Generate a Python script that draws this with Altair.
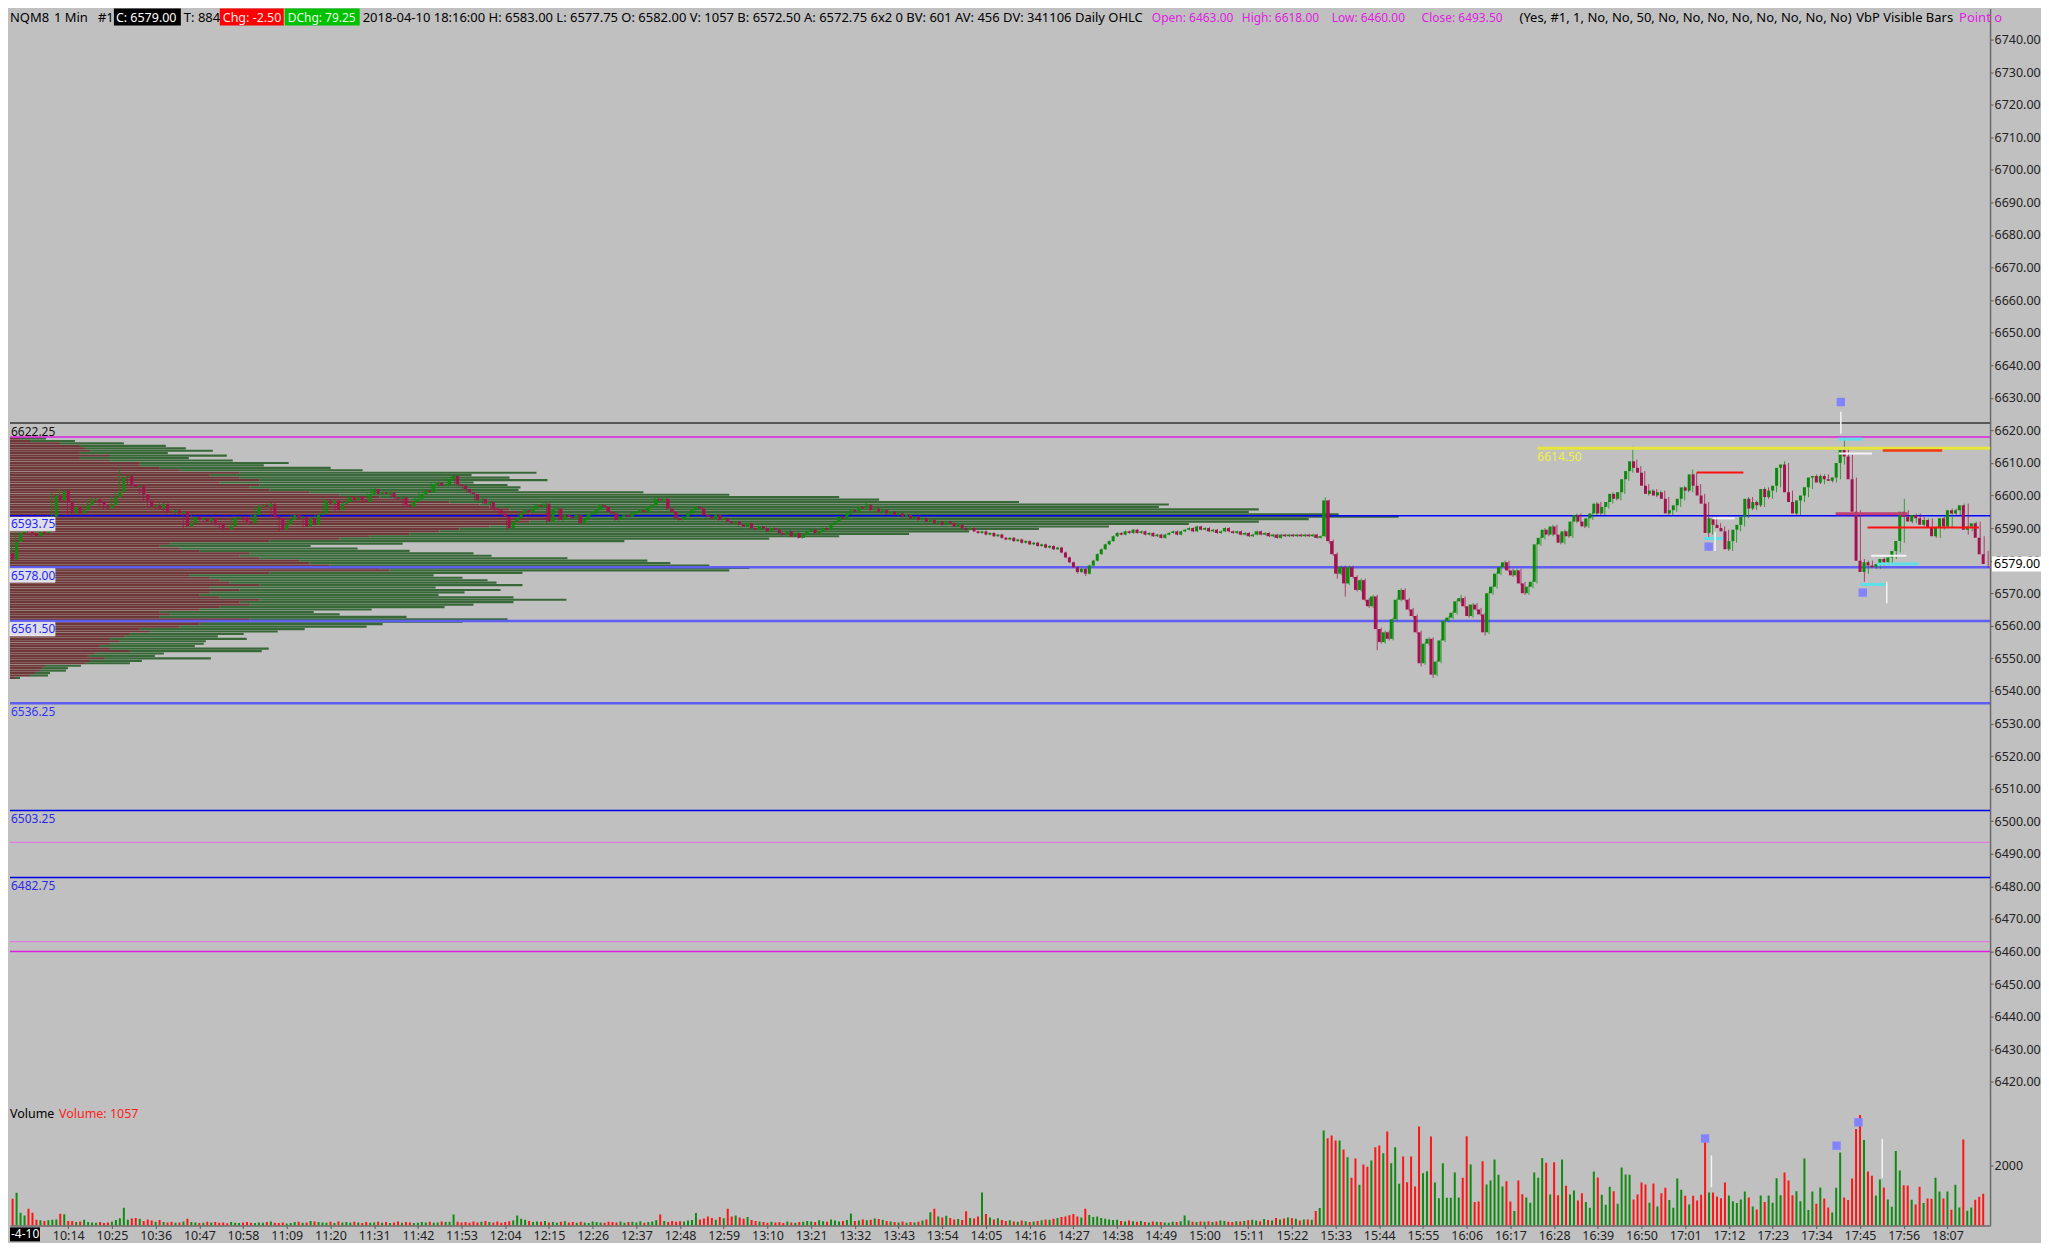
import altair as alt
import pandas as pd

# ---------------------------------------------------------------- data
FIRST_OPEN = 6582.25
FIRST_MINUTE = 600          # first 1-min bar = 10:00

CLOSE_AM = [
    6580.25, 6585.75, 6588.5, 6589.5, 6589, 6588.5, 6587.5, 6589.5, 6588.5, 6591.5,
    6593.5, 6600, 6598.5, 6601.5, 6598, 6594.5, 6596.5, 6594.5, 6595.5, 6597,
    6598.5, 6599, 6598, 6597, 6596, 6597, 6599.5, 6601, 6605.5, 6606,
    6603.5, 6602.5, 6603, 6600.5, 6598.5, 6596.5, 6597, 6596, 6597.5, 6595,
    6594.75, 6595.5, 6594.5, 6595, 6590.5, 6591.5, 6593.5, 6592.5, 6593, 6592,
    6593, 6591.5, 6591, 6590, 6589.5, 6590.5, 6593, 6593.5, 6593.25, 6592,
    6591.5, 6594, 6596.5, 6597, 6596.5, 6597.5, 6593.5, 6593, 6589.5, 6591,
    6592.5, 6594, 6593, 6593.5, 6590.5, 6593, 6591, 6594, 6594.5, 6598.5,
    6597.5, 6598.5, 6595.5, 6597.5, 6598, 6599.5, 6598.5, 6599.5, 6598.5, 6598,
    6600.5, 6602, 6600.5, 6601, 6600.5, 6601, 6599.5, 6599, 6599.5, 6597,
    6596.5, 6598, 6599, 6600.5, 6601.5, 6601, 6603.5, 6604, 6603, 6603.5,
    6605, 6606, 6603.5, 6603, 6602, 6601, 6600.5, 6598.5, 6599, 6597.5,
    6598, 6596, 6595.5, 6594.5, 6593.5, 6590, 6592, 6593, 6594.5, 6595.5,
    6595, 6596, 6597, 6596.5, 6597.5, 6592, 6595.5, 6596, 6592.5, 6594,
    6593.5, 6593, 6594, 6591.5, 6593, 6594, 6594.5, 6595.5, 6597, 6596.5,
    6595, 6594.5, 6592.5, 6593.5, 6594, 6593.5, 6594.5, 6595, 6595.5, 6595,
    6596.5, 6597, 6599, 6598.5, 6599, 6596, 6595, 6593, 6592.5, 6593.5,
    6594.5, 6595.5, 6596.5, 6596, 6594, 6593.5, 6593, 6594, 6592.5, 6593,
    6592, 6591.5, 6592, 6591, 6590.5, 6591.5, 6590, 6589.5, 6590.5, 6590,
    6589, 6590, 6589.5, 6588.5, 6588, 6589, 6587.5, 6588.5, 6587, 6588,
    6589, 6589.5, 6588.5, 6589, 6590, 6589.5, 6591, 6592, 6593.5, 6593,
    6594.5, 6595.5, 6595, 6596.5, 6596, 6597, 6595.5, 6596, 6595, 6595.5,
    6594.5, 6595, 6594, 6594.5, 6593.5, 6594, 6593, 6593.5, 6592.5, 6593,
    6592, 6592.5, 6591.5, 6592, 6591, 6592, 6591.5, 6590.5, 6591, 6590,
    6589.5, 6590, 6589, 6588.5, 6589, 6588, 6588.5, 6587.5, 6588, 6587,
    6586.5, 6587, 6586, 6586.5, 6585.5, 6586, 6585, 6585.5, 6584.5, 6585,
    6584, 6584.5, 6583.5, 6584, 6582.5, 6581, 6579.5, 6578, 6576.5, 6577.5,
    6576, 6578.5, 6580, 6582, 6583.5, 6585, 6586, 6587.5, 6588.5, 6588,
    6589, 6588.5, 6589.5, 6588.5, 6589, 6588, 6588.5, 6587.5, 6588, 6587,
    6588, 6588.5, 6589, 6588, 6589, 6589.5, 6590, 6589, 6590.5, 6589.5,
    6590, 6589, 6589.5, 6588.5, 6589, 6590, 6589, 6588.5, 6589, 6588,
    6588.5, 6587.5, 6588, 6589, 6588, 6588.5, 6587.5, 6588, 6587, 6588,
    6587.5, 6588, 6587.5, 6588,
]

CLOSE_PM = [
    6587.5, 6588, 6587.5, 6588, 6587, 6587.5, 6598.5, 6586, 6582, 6576,
    6578, 6573, 6578, 6575, 6571, 6574, 6568, 6566, 6569, 6559,
    6555, 6558, 6556, 6562, 6568, 6571, 6568, 6565, 6563, 6558,
    6548.5, 6554.5, 6556, 6545, 6549, 6555.5, 6561.5, 6562.5, 6564, 6567.5,
    6568.5, 6566, 6563, 6566.5, 6565, 6563.5, 6558, 6570, 6572, 6576,
    6578, 6579.5, 6577, 6575.5, 6577, 6573, 6570, 6572, 6573.5, 6585,
    6587, 6589.5, 6588, 6590.5, 6588, 6585.5, 6589, 6587.5, 6592, 6594,
    6592, 6590.5, 6593, 6594.5, 6597.5, 6594.5, 6596.5, 6598, 6600.5, 6599,
    6601, 6605, 6607.5, 6610.5, 6608.5, 6607, 6603, 6600.5, 6601.5, 6600,
    6601, 6599, 6594.5, 6595.5, 6597, 6599, 6602.5, 6601.5, 6606.5, 6603,
    6600, 6597.5, 6588.5, 6593, 6591, 6590, 6589, 6583.5, 6586, 6589.5,
    6591, 6593.5, 6599, 6596, 6598, 6597, 6602, 6599.5, 6601.5, 6603,
    6608.5, 6609.5, 6601, 6598, 6594.5, 6598.5, 6600, 6602.5, 6605.5, 6606,
    6604, 6606, 6605, 6604.5, 6605.5, 6610, 6614, 6612, 6605, 6595,
    6580, 6576.5, 6579.5, 6578.5, 6578, 6579, 6580.5, 6579.5, 6581, 6583,
    6586, 6595, 6593.5, 6592, 6594, 6593, 6591, 6592.5, 6590, 6587.5,
    6590, 6593, 6590.5, 6595.5, 6594.5, 6595.5, 6597, 6589.5, 6590.5, 6591.5,
    6587, 6582, 6579,
]

# wick lengths in ticks (0.25) above max(open, close) / below min(open, close)
WICK_UP_AM = [
    1, 1, 2, 1, 1, 1, 1, 1, 1, 1,  1, 4, 1, 2, 1, 1, 1, 1, 1, 1,
    1, 1, 1, 1, 1, 1, 1, 1, 13, 2,  1, 1, 1, 1, 1, 1, 1, 1, 1, 1,
    1, 1, 1, 1, 1, 1, 2, 1, 1, 1,  1, 1, 1, 1, 1, 1, 1, 1, 1, 1,
    1, 1, 1, 1, 1, 1, 1, 1, 1, 1,  1, 1, 1, 1, 1, 1, 1, 1, 1, 2,
    1, 1, 1, 1, 1, 1, 1, 1, 1, 1,  1, 2, 1, 1, 1, 1, 1, 1, 1, 1,
    1, 1, 1, 1, 1, 1, 2, 1, 1, 1,  1, 2, 1, 1, 1, 1, 1, 1, 1, 1,
    1, 1, 1, 1, 1, 1, 1, 1, 1, 1,  1, 1, 1, 1, 1, 1, 1, 1, 1, 1,
    1, 1, 1, 1, 1, 1, 1, 1, 1, 1,  1, 1, 1, 1, 1, 1, 1, 1, 1, 1,
    1, 1, 2, 1, 1, 1, 1, 1, 1, 1,  1, 1, 1, 1, 1, 1, 1, 1, 1, 1,
    1, 1, 1, 1, 1, 1, 1, 1, 1, 1,  1, 1, 1, 1, 1, 1, 1, 1, 1, 1,
    1, 1, 1, 1, 1, 1, 1, 1, 1, 1,  1, 1, 1, 2, 1, 4, 1, 1, 1, 1,
    1, 1, 1, 1, 1, 1, 1, 1, 1, 1,  1, 1, 1, 1, 1, 1, 1, 1, 1, 1,
    1, 1, 1, 1, 1, 1, 1, 1, 1, 1,  1, 1, 1, 1, 1, 1, 1, 1, 1, 1,
    1, 1, 1, 1, 1, 1, 1, 1, 1, 1,  1, 1, 1, 1, 1, 1, 1, 1, 1, 1,
    1, 1, 1, 1, 1, 1, 1, 1, 1, 1,  1, 1, 1, 1, 1, 1, 1, 1, 1, 1,
    1, 1, 1, 1, 1, 1, 1, 1, 1, 1,  1, 1, 1, 1, 1, 1, 1, 1, 1, 1,
    1, 1, 1, 1,
]
WICK_DN_AM = [
    2, 1, 1, 1, 1, 1, 1, 1, 1, 1,  1, 1, 1, 1, 1, 1, 1, 1, 1, 1,
    1, 1, 1, 1, 1, 1, 1, 1, 1, 1,  1, 1, 1, 1, 1, 1, 1, 1, 1, 1,
    1, 1, 1, 1, 2, 1, 1, 1, 1, 1,  1, 1, 1, 1, 1, 1, 1, 1, 1, 1,
    1, 1, 1, 1, 1, 1, 1, 1, 2, 1,  1, 1, 1, 1, 1, 1, 1, 1, 1, 1,
    1, 1, 1, 1, 1, 1, 1, 1, 1, 1,  1, 1, 1, 1, 1, 1, 1, 1, 1, 1,
    1, 1, 1, 1, 1, 1, 1, 1, 1, 1,  1, 1, 1, 1, 1, 1, 1, 1, 1, 1,
    1, 1, 1, 1, 1, 2, 1, 1, 1, 1,  1, 1, 1, 1, 1, 2, 1, 1, 1, 1,
    1, 1, 1, 1, 1, 1, 1, 1, 1, 1,  1, 1, 1, 1, 1, 1, 1, 1, 1, 1,
    1, 1, 1, 1, 1, 1, 1, 1, 1, 1,  1, 1, 1, 1, 1, 1, 1, 1, 1, 1,
    1, 1, 1, 1, 1, 1, 1, 1, 1, 1,  1, 1, 1, 1, 1, 1, 1, 1, 1, 1,
    1, 1, 1, 1, 1, 1, 1, 1, 1, 1,  1, 1, 1, 1, 1, 1, 1, 1, 1, 1,
    1, 1, 1, 1, 1, 1, 1, 1, 1, 1,  1, 1, 1, 1, 1, 1, 1, 1, 1, 1,
    1, 1, 1, 1, 1, 1, 1, 1, 1, 1,  1, 1, 1, 1, 1, 1, 1, 1, 1, 1,
    1, 1, 1, 1, 1, 1, 1, 1, 2, 1,  3, 1, 1, 1, 1, 1, 1, 1, 1, 1,
    1, 1, 1, 1, 1, 1, 1, 1, 1, 1,  1, 1, 1, 1, 1, 1, 1, 1, 1, 1,
    1, 1, 1, 1, 1, 1, 1, 1, 1, 1,  1, 1, 1, 1, 1, 1, 1, 1, 1, 1,
    1, 1, 1, 1,
]
WICK_UP_PM = [
    1, 1, 1, 1, 1, 1, 4, 1, 2, 2,
    2, 2, 2, 2, 2, 2, 2, 2, 2, 2,
    2, 2, 2, 2, 2, 2, 2, 2, 2, 2,
    2, 2, 2, 2, 2, 2, 2, 2, 2, 2,
    4, 2, 2, 2, 2, 2, 2, 2, 2, 2,
    2, 2, 2, 2, 2, 2, 2, 2, 2, 2,
    2, 2, 2, 2, 2, 2, 2, 2, 2, 2,
    2, 2, 2, 2, 2, 2, 2, 2, 2, 2,
    2, 2, 2, 18, 2, 2, 2, 2, 2, 2,
    2, 2, 2, 2, 2, 2, 2, 2, 6, 2,
    2, 2, 2, 2, 2, 2, 2, 2, 2, 2,
    2, 2, 2, 2, 2, 2, 2, 2, 2, 2,
    2, 4, 2, 2, 2, 2, 2, 2, 2, 2,
    2, 2, 2, 2, 2, 2, 16, 2, 2, 2,
    2, 2, 2, 2, 2, 2, 2, 2, 2, 2,
    2, 16, 2, 2, 2, 2, 2, 2, 2, 2,
    2, 2, 2, 2, 2, 2, 2, 2, 2, 2,
    2, 2, 4,
]
WICK_DN_PM = [
    1, 1, 1, 1, 1, 1, 1, 3, 2, 6,
    2, 16, 2, 2, 2, 2, 2, 2, 2, 26,
    2, 2, 2, 2, 2, 2, 2, 2, 2, 2,
    4, 2, 2, 4, 2, 2, 2, 2, 2, 2,
    2, 2, 2, 2, 2, 2, 4, 2, 2, 2,
    2, 2, 2, 2, 2, 2, 2, 2, 2, 2,
    2, 2, 2, 2, 2, 2, 2, 2, 2, 2,
    2, 2, 2, 2, 2, 2, 2, 2, 2, 2,
    2, 2, 2, 2, 2, 2, 2, 2, 2, 2,
    2, 2, 2, 2, 2, 2, 2, 2, 2, 2,
    2, 2, 8, 2, 2, 2, 2, 2, 2, 2,
    2, 2, 2, 2, 2, 2, 2, 2, 2, 2,
    2, 2, 2, 2, 2, 2, 2, 2, 2, 2,
    2, 2, 2, 2, 2, 2, 2, 2, 2, 2,
    4, 12, 2, 2, 2, 2, 2, 2, 2, 2,
    2, 2, 2, 2, 2, 2, 2, 2, 2, 2,
    2, 2, 2, 2, 2, 2, 2, 6, 2, 2,
    2, 2, 5,
]

VOL_AM = [
    890, 1090, 420, 330, 555, 420, 190, 170, 150, 170,
    190, 200, 390, 370, 150, 150, 110, 130, 190, 110,
    100, 90, 110, 80, 100, 120, 180, 240, 590, 190,
    230, 250, 220, 150, 200, 160, 120, 180, 110, 100,
    120, 90, 100, 130, 220, 110, 100, 80, 90, 120,
    100, 110, 90, 100, 70, 110, 90, 80, 100, 110,
    90, 80, 100, 90, 110, 130, 90, 80, 100, 60,
    80, 110, 120, 90, 100, 150, 130, 110, 100, 90,
    120, 80, 130, 100, 110, 90, 120, 100, 80, 110,
    90, 100, 120, 90, 110, 80, 100, 130, 90, 110,
    100, 80, 90, 110, 100, 120, 90, 100, 130, 110,
    120, 360, 120, 100, 110, 90, 130, 100, 120, 150,
    110, 100, 130, 90, 110, 140, 160, 330, 220, 190,
    150, 110, 130, 120, 150, 100, 110, 90, 120, 140,
    100, 110, 90, 120, 100, 80, 130, 110, 100, 90,
    120, 110, 100, 130, 90, 110, 120, 100, 140, 90,
    110, 130, 170, 360, 150, 110, 150, 120, 140, 130,
    160, 180, 410, 200, 230, 300, 250, 190, 280, 240,
    560, 300, 330, 260, 220, 280, 180, 150, 130, 110,
    90, 120, 100, 110, 80, 130, 100, 90, 110, 120,
    150, 130, 110, 170, 140, 120, 200, 160, 130, 150,
    180, 400, 150, 160, 200, 170, 190, 230, 210, 190,
    150, 130, 110, 100, 130, 90, 110, 100, 120, 160,
    200, 440, 560, 300, 260, 320, 250, 200, 210, 180,
    470, 250, 230, 300, 1100, 380, 260, 200, 240, 180,
    150, 170, 130, 120, 160, 140, 110, 130, 150, 170,
    200, 190, 220, 250, 280, 300, 340, 380, 300, 260,
    560, 350, 280, 300, 250, 220, 200, 180, 190, 150,
    130, 160, 140, 120, 150, 110, 100, 130, 120, 110,
    100, 90, 120, 110, 140, 330, 160, 120, 110, 130,
    120, 140, 110, 130, 160, 150, 120, 110, 140, 130,
    150, 170, 190, 160, 140, 210, 180, 160, 250, 200,
    230, 260, 240, 220,
]

VOL_PM = [
    167, 200, 200, 189, 477, 577, 3164, 2908, 2997, 2831,
    2831, 2531, 2276, 1587, 2231, 1354, 2031, 1954, 2165, 2609,
    2664, 2409, 3130, 2076, 2609, 1388, 2298, 1443, 2298, 1299,
    3297, 1743, 1809, 2964, 1432, 910, 2076, 921, 921, 1765,
    932, 1587, 2975, 2031, 777, 799, 2142, 1365, 1499, 2198,
    1687, 1299, 1476, 799, 477, 1499, 1043, 932, 755, 1765,
    1587, 2253, 2087, 1032, 2109, 1010, 2198, 1321, 1032, 1166,
    833, 1077, 777, 588, 1798, 1598, 1021, 688, 1288, 1143,
    722, 1931, 1698, 1687, 866, 1032, 1432, 1365, 755, 1399,
    633, 1077, 1254, 844, 588, 1565, 1188, 988, 699, 988,
    833, 1021, 2775, 1099, 1099, 966, 910, 1432, 999, 810,
    744, 866, 1132, 932, 633, 533, 999, 777, 999, 755,
    1576, 1010, 1765, 1499, 1010, 1143, 810, 2231, 511, 1132,
    722, 1265, 899, 599, 433, 1254, 2431, 932, 844, 1565,
    3219, 3685, 2853, 1798, 1654, 999, 1532, 1265, 866, 622,
    2486, 1832, 1343, 1332, 855, 699, 1288, 744, 899, 888,
    1587, 1132, 899, 1132, 522, 1354, 599, 2864, 488, 599,
    855, 955, 1057,
]

# Volume-by-price profile (visible bars)
PROFILE_PRICE = [
    6544.0, 6544.75, 6545.5, 6546.25, 6547.0, 6547.75, 6548.5, 6549.25, 6550.0, 6550.75,
    6551.5, 6552.25, 6553.0, 6553.75, 6554.5, 6555.25, 6556.0, 6556.75, 6557.5, 6558.25,
    6559.0, 6559.75, 6560.5, 6561.25, 6562.0, 6562.75, 6563.5, 6564.25, 6565.0, 6565.75,
    6566.5, 6567.25, 6568.0, 6568.75, 6569.5, 6570.25, 6571.0, 6571.75, 6572.5, 6573.25,
    6574.0, 6574.75, 6575.5, 6576.25, 6577.0, 6577.75, 6578.5, 6579.25, 6580.0, 6580.75,
    6581.5, 6582.25, 6583.0, 6583.75, 6584.5, 6585.25, 6586.0, 6586.75, 6587.5, 6588.25,
    6589.0, 6589.75, 6590.5, 6591.25, 6592.0, 6592.75, 6593.5, 6594.25, 6595.0, 6595.75,
    6596.5, 6597.25, 6598.0, 6598.75, 6599.5, 6600.25, 6601.0, 6601.75, 6602.5, 6603.25,
    6604.0, 6604.75, 6605.5, 6606.25, 6607.0, 6607.75, 6608.5, 6609.25, 6610.0, 6610.75,
    6611.5, 6612.25, 6613.0, 6613.75, 6614.5, 6615.25, 6616.0, 6616.75, 6617.5,
]
PROFILE_TOTAL = [
    100, 380, 400, 560, 580, 710, 1200, 1320, 2010, 1450,
    1540, 2520, 2590, 1850, 1940, 1960, 2370, 2080, 2340, 2680,
    2950, 3570, 3730, 4530, 4980, 3970, 3300, 3040, 3620, 4350,
    4640, 5040, 5570, 5040, 4290, 4550, 4910, 4260, 5130, 4870,
    4780, 4530, 4240, 5130, 7200, 7400, 7000, 6610, 6380, 5580,
    4820, 4640, 4000, 3480, 3010, 3930, 6150, 7600, 8300, 9000,
    9600, 10300, 11000, 11800, 12500, 13000, 13900, 13300, 12400, 12500,
    11500, 11600, 10100, 8700, 8300, 7200, 6340, 5090, 5110, 4980,
    4640, 5380, 5000, 4620, 5270, 3530, 3210, 2540, 2790, 2230,
    1790, 2170, 1580, 2030, 1760, 1560, 1140, 650, 360,
]
PROFILE_BID = [
    50, 200, 250, 300, 320, 350, 750, 800, 950, 780,
    850, 1200, 1000, 900, 1000, 1100, 1000, 1150, 1200, 1400,
    1300, 1700, 1900, 2000, 2400, 1500, 1600, 1500, 1900, 2100,
    2400, 2300, 2500, 2100, 1900, 2000, 2300, 2000, 2500, 2200,
    2100, 2000, 1800, 2600, 3800, 3700, 3200, 3000, 2900, 2500,
    2300, 2400, 1900, 1700, 1500, 1600, 2600, 3300, 3600, 4000,
    4300, 4500, 4800, 5000, 5200, 5400, 5600, 5400, 5200, 5000,
    4800, 4700, 4400, 4000, 3700, 3300, 3000, 2600, 2400, 2500,
    2100, 2500, 2300, 2000, 2300, 1700, 1500, 1300, 1300, 1000,
    700, 1000, 700, 800, 750, 700, 500, 200, 100,
]

TIME_LABELS = ["10:14", "10:25", "10:36", "10:47", "10:58", "11:09", "11:20", "11:31",
               "11:42", "11:53", "12:04", "12:15", "12:26", "12:37", "12:48", "12:59",
               "13:10", "13:21", "13:32", "13:43", "13:54", "14:05", "14:16", "14:27",
               "14:38", "14:49", "15:00", "15:11", "15:22", "15:33", "15:44", "15:55",
               "16:06", "16:17", "16:28", "16:39", "16:50", "17:01", "17:12", "17:23",
               "17:34", "17:45", "17:56", "18:07"]
PRICE_TICKS = [6420, 6430, 6440, 6450, 6460, 6470, 6480, 6490, 6500, 6510, 6520,
               6530, 6540, 6550, 6560, 6570, 6580, 6590, 6600, 6610, 6620, 6630,
               6640, 6650, 6660, 6670, 6680, 6690, 6700, 6710, 6720, 6730, 6740]

# study levels drawn across the chart
LEVEL_PRICE = [6622.25, 6593.75, 6578.00, 6561.50, 6536.25, 6503.25, 6482.75]
LEVEL_LABEL = ["6622.25", "6593.75", "6578.00", "6561.50", "6536.25", "6503.25", "6482.75"]
LEVEL_BOXED = [False, True, True, True, False, False, False]
DAILY_OHLC = {"Open": 6463.00, "High": 6618.00, "Low": 6460.00, "Close": 6493.50}
YELLOW_LEVEL = 6614.50
LAST_PRICE = 6579.00

# drawing-tool marks in the US session (minute, price)
SEG_T1 = [983.1, 1058.6, 1026.9, 1066.7, 1058.6, 1024.8, 1064.0, 1068.1, 1023.0, 1069.6, 1065.8, 1057.8]
SEG_T2 = [1096.5, 1066.9, 1032.5, 1075.5, 1064.6, 1029.6, 1070.3, 1078.6, 1034.7, 1084.5, 1093.7, 1075.8]
SEG_P = [6614.5, 6612.9, 6593.0, 6581.5, 6617.3, 6586.8, 6572.7, 6579.0, 6607.1, 6613.8, 6590.2, 6594.4]
SEG_KIND = ["yellow", "white", "white", "white", "cyan", "cyan", "cyan", "cyan", "red", "orange", "red", "maroon"]
VLINE_T = [1059.1, 1027.6, 1070.6]
VLINE_P1 = [6625.7, 6588.9, 6573.5]
VLINE_P2 = [6619.0, 6583.0, 6566.9]
SQ_T = [1059.1, 1026.0, 1064.6]
SQ_P = [6628.7, 6584.3, 6570.2]
VSQ_V = [2660, 2900, 3440]
VSQ_T = [1059.1, 1026.0, 1064.6]
VVLINE_T = [1027.6, 1070.6]
VVLINE_V1 = [1277, 1588]
VVLINE_V2 = [2333, 2888]

# ---------------------------------------------------------------- layout / style
W = 1982
H_TOP = 1086
H_VOL = 132
X_DOMAIN = [600.6, 1096.47]
P_DOMAIN = [6416.38, 6749.5]
V_DOMAIN = [0, 4400]
PROFILE_FULL = 19820
FONT = "Noto Sans"
BG = "#c0c0c0"
UP_C, DN_C = "#0b8a0b", "#a3124f"
VUP_C, VDN_C = "#118a11", "#ff1414"
KIND_COLOR = {"yellow": "#e6e63a", "white": "#f4f4f4", "cyan": "#5ee0e8",
              "red": "#ff1010", "orange": "#ee3a10", "maroon": "#c04070"}
KIND_WIDTH = {"yellow": 3, "white": 2, "cyan": 3, "red": 2, "orange": 2.5, "maroon": 3}

# ---------------------------------------------------------------- frames
closes = CLOSE_AM + CLOSE_PM
vols = VOL_AM + VOL_PM
wup = WICK_UP_AM + WICK_UP_PM
wdn = WICK_DN_AM + WICK_DN_PM
n = min(len(closes), len(vols), len(wup), len(wdn))
opens = [FIRST_OPEN] + closes[:-1]
rows = []
for i in range(n):
    o, c = opens[i], closes[i]
    rows.append(dict(t=FIRST_MINUTE + i, open=o, close=c,
                     high=max(o, c) + 0.25 * wup[i], low=min(o, c) - 0.25 * wdn[i],
                     vol=vols[i], up=bool(c >= o)))
bars = pd.DataFrame(rows)

prof = pd.DataFrame({"p": PROFILE_PRICE, "total": PROFILE_TOTAL, "bid": PROFILE_BID})
prof["zero"] = 0

lv_color = ["#585858", "#0000ff", "#5e5ef2", "#5e5ef2", "#5e5ef2", "#0000e6", "#0000e6"]
lv_width = [2, 1.5, 2.5, 2.5, 2.5, 1.5, 1.5]
lv_text = ["#111111", "#2424ff", "#2424ff", "#2424ff", "#3030ff", "#2a2ae6", "#2a2ae6"]
levels = pd.DataFrame({"p": LEVEL_PRICE, "label": LEVEL_LABEL, "boxed": LEVEL_BOXED,
                       "color": lv_color, "w": lv_width, "tcolor": lv_text})
ohlc = pd.DataFrame({"p": [DAILY_OHLC["High"], DAILY_OHLC["Close"], DAILY_OHLC["Open"], DAILY_OHLC["Low"]],
                     "color": ["#e020e0", "#dd7ddd", "#dd7ddd", "#e020e0"],
                     "w": [1.5, 1.2, 1.2, 1.5]})
segs = pd.DataFrame({"t1": SEG_T1, "t2": SEG_T2, "p": SEG_P,
                     "color": [KIND_COLOR[k] for k in SEG_KIND],
                     "w": [KIND_WIDTH[k] for k in SEG_KIND]})
vlines = pd.DataFrame({"t": VLINE_T, "p1": VLINE_P1, "p2": VLINE_P2})
squares = pd.DataFrame({"t": SQ_T, "p": SQ_P})
vsquares = pd.DataFrame({"t": VSQ_T, "v": VSQ_V})
vvlines = pd.DataFrame({"t": VVLINE_T, "v1": VVLINE_V1, "v2": VVLINE_V2})
one = pd.DataFrame({"k": [0]})

xs = alt.Scale(domain=X_DOMAIN, nice=False, zero=False)
ys = alt.Scale(domain=P_DOMAIN, nice=False, zero=False)
vs = alt.Scale(domain=V_DOMAIN, nice=False)

price_axis = alt.Axis(orient="right", values=PRICE_TICKS, format=".2f", title=None, grid=False,
                      domainColor="#6a6a6a", domainWidth=1.5, tickColor="#555555", tickSize=3,
                      labelPadding=1, labelFontSize=12.5, labelColor="#222222", labelFont=FONT)
TIME_VALUES = [int(s.split(":")[0]) * 60 + int(s.split(":")[1]) for s in TIME_LABELS]
time_axis = alt.Axis(values=TIME_VALUES, title=None, grid=False,
                     labelExpr="floor(datum.value / 60) + ':' + (datum.value % 60 < 10 ? '0' : '') + (datum.value % 60)",
                     domainColor="#6a6a6a", domainWidth=1.5, tickColor="#555555", tickSize=3,
                     labelPadding=1, labelFontSize=12.5, labelColor="#222222", labelFont=FONT,
                     labelOverlap=False, labelFlush=False)
vol_axis = alt.Axis(orient="right", values=[2000], format="d", title=None, grid=False,
                    domainColor="#6a6a6a", domainWidth=1.5, tickColor="#555555", tickSize=3,
                    labelPadding=1, labelFontSize=12.5, labelColor="#222222", labelFont=FONT)


def XT(f):
    return alt.X(f, type="quantitative", scale=xs, axis=None)


def YP(f):
    return alt.Y(f, type="quantitative", scale=ys, axis=price_axis)


def XV(f):
    return alt.X(f, type="quantitative", scale=xs, axis=time_axis)


def YV(f):
    return alt.Y(f, type="quantitative", scale=vs, axis=vol_axis)


up_cond = alt.condition("datum.up", alt.value(UP_C), alt.value(DN_C))
vol_cond = alt.condition("datum.up", alt.value(VUP_C), alt.value(VDN_C))

# ---------------------------------------------------------------- top panel
pscale = alt.Scale(domain=[0, PROFILE_FULL], nice=False, zero=True)
prof_bid = alt.Chart(prof).mark_rect(color="#6f3838", yOffset=-1.05, y2Offset=1.1).encode(
    x=alt.X("zero:Q", scale=pscale, axis=None), x2="bid:Q", y=YP("p"), y2="p:Q")
prof_ask = alt.Chart(prof).mark_rect(color="#386838", yOffset=-1.05, y2Offset=1.1).encode(
    x=alt.X("bid:Q", scale=pscale, axis=None), x2="total:Q", y=YP("p"), y2="p:Q")

ohlc_lines = alt.Chart(ohlc).mark_rule().encode(
    x=alt.value(0), x2=alt.value(W), y=YP("p"),
    color=alt.Color("color:N", scale=None), strokeWidth=alt.StrokeWidth("w:Q", scale=None))
level_lines = alt.Chart(levels).mark_rule().encode(
    x=alt.value(0), x2=alt.value(W), y=YP("p"),
    color=alt.Color("color:N", scale=None), strokeWidth=alt.StrokeWidth("w:Q", scale=None))
level_boxes = alt.Chart(levels).transform_filter("datum.boxed").mark_rect(
    fill="#dedee6", stroke="#f4f4f8", strokeWidth=0.8, yOffset=1.5, y2Offset=15).encode(
    x=alt.value(0), x2=alt.value(45), y=YP("p"), y2="p:Q")
level_text = alt.Chart(levels).mark_text(align="left", baseline="middle", dy=8.5, dx=1,
                                         font=FONT, fontSize=12).encode(
    x=alt.value(0), y=YP("p"), text="label:N", color=alt.Color("tcolor:N", scale=None))

wicks = alt.Chart(bars).mark_rule(strokeWidth=1, clip=True, opacity=0.75).encode(
    x=XT("t"), y=YP("low"), y2="high:Q", color=up_cond)
bodies = alt.Chart(bars).mark_bar(size=3, clip=True).encode(
    x=XT("t"), y=YP("open"), y2="close:Q", color=up_cond)

seg_lines = alt.Chart(segs).mark_rule().encode(
    x=XT("t1"), x2="t2:Q", y=YP("p"),
    color=alt.Color("color:N", scale=None), strokeWidth=alt.StrokeWidth("w:Q", scale=None))
white_v = alt.Chart(vlines).mark_rule(color="#f4f4f4", strokeWidth=1.5).encode(
    x=XT("t"), y=YP("p1"), y2="p2:Q")
sq = alt.Chart(squares).mark_square(size=70, color="#8383ff", opacity=1, filled=True).encode(
    x=XT("t"), y=YP("p"))
yellow_lbl = alt.Chart(pd.DataFrame({"t": [SEG_T1[0]], "p": [YELLOW_LEVEL]})).mark_text(
    align="left", baseline="middle", dy=9, font=FONT, fontSize=12, color="#f2f23c").encode(
    x=XT("t"), y=YP("p"), text=alt.value(f"{YELLOW_LEVEL:.2f}"))

last_df = pd.DataFrame({"p": [LAST_PRICE]})
last_box = alt.Chart(last_df).mark_rect(fill="#ffffff", yOffset=-7.5, y2Offset=7.5).encode(
    x=alt.value(W + 2), x2=alt.value(W + 51), y=YP("p"), y2="p:Q")
last_txt = alt.Chart(last_df).mark_text(align="left", baseline="middle", font=FONT, fontSize=12.5,
                                        color="#000000").encode(
    x=alt.value(W + 4), y=YP("p"), text=alt.value(f"{LAST_PRICE:.2f}"))

# header (text line of the chart window): (x, text, colour, font size, box)
HEADER_PIECES = [
    (0, "NQM8", "#000000", 13, None),
    (44, "1 Min", "#000000", 13, None),
    (88, "#1", "#000000", 13, None),
    (106, "C: 6579.00", "#ffffff", 12.5, ("#000000", 104, 171)),
    (174, "T: 884", "#000000", 13, None),
    (213, "Chg: -2.50", "#ffe8e8", 12.5, ("#ff0000", 210, 274)),
    (278, "DChg: 79.25", "#e8ffe8", 12, ("#00c000", 275, 350)),
    (353, "2018-04-10 18:16:00 H: 6583.00 L: 6577.75 O: 6582.00 V: 1057 B: 6572.50 A: 6572.75 6x2 0 "
          "BV: 601 AV: 456 DV: 341106 Daily OHLC", "#000000", 13, None),
    (1143, "Open: 6463.00", "#e020e0", 12, None),
    (1233, "High: 6618.00", "#e020e0", 12, None),
    (1323, "Low: 6460.00", "#e020e0", 12, None),
    (1413, "Close: 6493.50", "#e020e0", 12, None),
    (1511, "(Yes, #1, 1, No, No, 50, No, No, No, No, No, No, No, No)", "#000000", 13, None),
    (1848, "VbP Visible Bars", "#000000", 13, None),
    (1951, "Point o", "#e020e0", 13, None),
]
header_layers = []
for px, txt, col, fs, box in HEADER_PIECES:
    if box is not None:
        header_layers.append(alt.Chart(one).mark_rect(color=box[0]).encode(
            x=alt.value(box[1]), x2=alt.value(box[2]), y=alt.value(0), y2=alt.value(17)))
    header_layers.append(alt.Chart(one).mark_text(align="left", baseline="middle", font=FONT,
                                                  fontSize=fs, color=col).encode(
        x=alt.value(px), y=alt.value(9), text=alt.value(txt)))

top = alt.layer(prof_bid, prof_ask, ohlc_lines, level_lines, wicks, bodies, seg_lines,
                white_v, sq, level_boxes, level_text, yellow_lbl, last_box, last_txt,
                *header_layers).resolve_scale(x="independent").properties(width=W, height=H_TOP)

# ---------------------------------------------------------------- volume panel
vbars = alt.Chart(bars).mark_bar(size=2, clip=True).encode(x=XV("t"), y=YV("vol"), color=vol_cond)
vsq = alt.Chart(vsquares).mark_square(size=70, color="#8383ff", opacity=1, filled=True).encode(
    x=XV("t"), y=YV("v"))
vwhite = alt.Chart(vvlines).mark_rule(color="#f4f4f4", strokeWidth=1.5).encode(
    x=XV("t"), y=YV("v1"), y2="v2:Q")
vol_lbl1 = alt.Chart(one).mark_text(align="left", baseline="middle", font=FONT, fontSize=12.5,
                                    color="#000000").encode(
    x=alt.value(0), y=alt.value(20), text=alt.value("Volume"))
vol_lbl2 = alt.Chart(one).mark_text(align="left", baseline="middle", font=FONT, fontSize=12.5,
                                    color="#ff2020").encode(
    x=alt.value(49), y=alt.value(20), text=alt.value(f"Volume: {VOL_PM[-1]}"))
date_box = alt.Chart(one).mark_rect(color="#000000").encode(
    x=alt.value(0), x2=alt.value(30), y=alt.value(H_VOL + 2), y2=alt.value(H_VOL + 16))
date_txt = alt.Chart(one).mark_text(align="left", baseline="middle", font=FONT, fontSize=12,
                                    color="#ffffff").encode(
    x=alt.value(1), y=alt.value(H_VOL + 9), text=alt.value("-4-10"))

vol = alt.layer(vbars, vwhite, vsq, date_box, date_txt, vol_lbl1, vol_lbl2).properties(
    width=W, height=H_VOL)

chart = alt.vconcat(top, vol, spacing=0).properties(padding=0).configure(
    background=BG, font=FONT).configure_view(strokeWidth=0)

chart.save("out.html", embed_options={"renderer": "svg", "actions": False})
